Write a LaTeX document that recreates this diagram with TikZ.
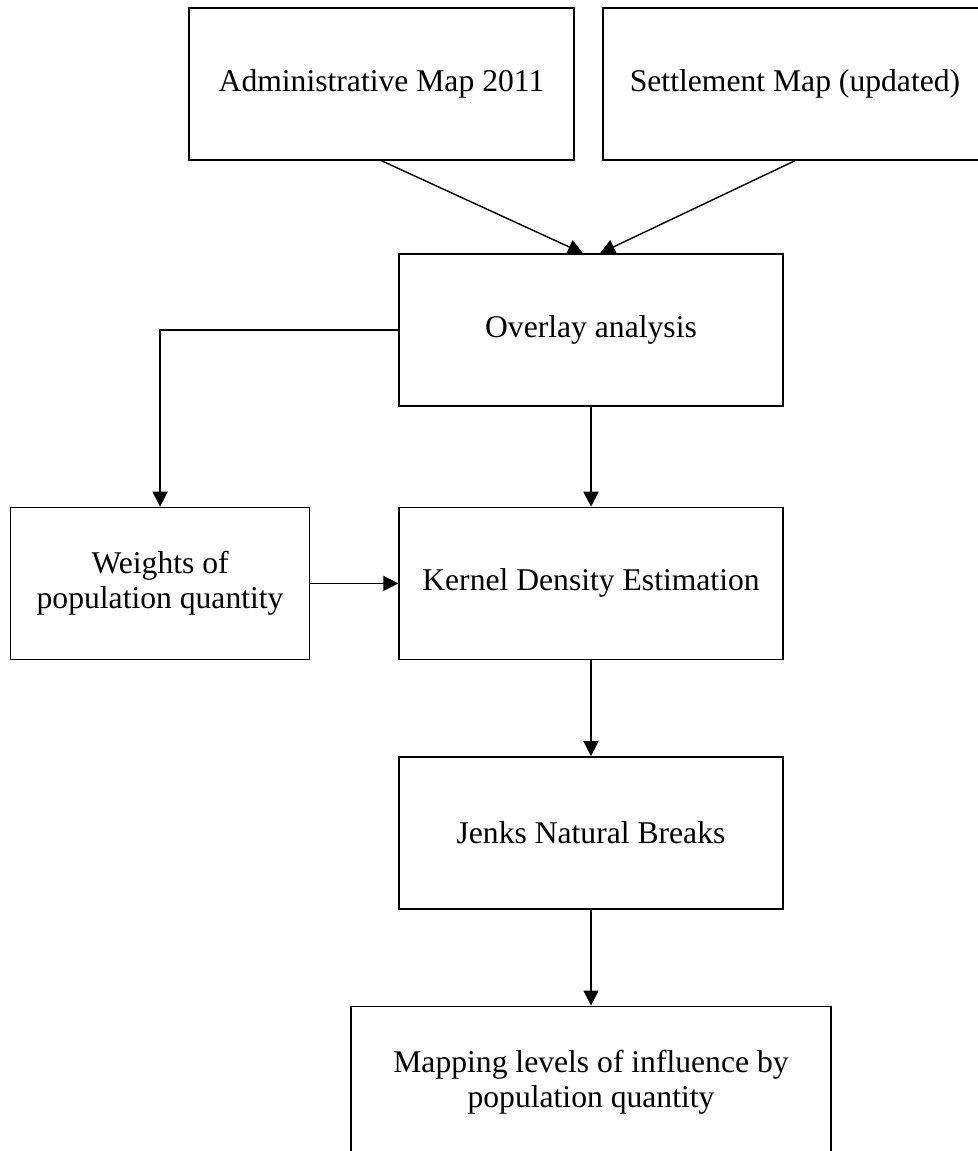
\documentclass[tikz,border=0pt]{standalone}
\usepackage{fontspec}
\setmainfont{Liberation Serif}
\usetikzlibrary{positioning, arrows.meta}

\begin{document}
\begin{tikzpicture}[node distance={20mm}, line width=0.8pt, >={Triangle[length=3mm, width=3mm]},
  main/.style = {draw, rectangle, align=center, inner sep=0pt, minimum height=30.4mm,
    font=\fontsize{18}{20}\selectfont}]
\useasboundingbox (0,0) rectangle (19.56,-23.02);

\node[main] (admin) [minimum width=77mm] at (7.63,-1.68) {Administrative Map 2011};
\node[main] (settle) [minimum width=76.8mm] at (15.9,-1.68) {Settlement Map (updated)};
\node[main] (overlay) [minimum width=76.8mm] at (11.82,-6.6) {Overlay analysis};
\node[main] (kde) [minimum width=76.8mm, below=of overlay] {Kernel Density Estimation};
\node[main] (weights) [minimum width=59.8mm, left=17.6mm of kde] {Weights of\\population quantity};
\node[main] (jenks) [minimum width=76.8mm, below=19.2mm of kde] {Jenks Natural Breaks};
\node[main] (mapping) [minimum width=96mm, below=19.2mm of jenks] {Mapping levels of influence by\\population quantity};

\draw[->] (admin.south) -- ([xshift=-1.6mm]overlay.north);
\draw[->] (settle.south) -- ([xshift=1.8mm]overlay.north);
\draw[->] (overlay.west) -| (weights.north);
\draw[->] (overlay) -- (kde);
\draw[->] (weights) -- (kde);
\draw[->] (kde) -- (jenks);
\draw[->] (jenks) -- (mapping);
\end{tikzpicture}
\end{document}
